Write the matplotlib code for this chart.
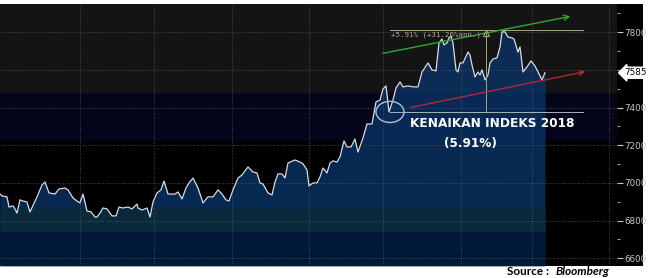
import matplotlib
matplotlib.use('Agg')
import matplotlib.pyplot as plt
import matplotlib.transforms as mtransforms
from matplotlib.patches import Ellipse, Rectangle
import numpy as np

# ── Data (IHSG) ──────────────────────────────────────────────
sesi = [0, 2, 7, 9, 13, 15, 17, 20, 23, 27, 30,
        37, 42, 45, 49, 55, 59, 65, 68, 73, 77, 80,
        83, 87, 91, 95, 97, 100, 103, 107, 112, 116, 119,
        123, 128, 132, 137, 138, 142, 147, 150, 153, 157, 161,
        164, 168, 175, 178, 182, 186, 189, 193, 198, 203, 208,
        213, 218, 222, 226, 229, 233, 238, 242, 248, 253, 257,
        260, 263, 268, 272, 275, 278, 282, 285, 288, 295, 300,
        303, 307, 309, 313, 317, 320, 323, 327, 330, 333, 337,
        340, 344, 347, 351, 355, 358, 363, 367, 372, 376, 380,
        383, 386, 389, 393, 396, 400, 403, 408, 413, 418, 422,
        428, 432, 436, 439, 442, 444, 447, 449, 451, 453, 456,
        458, 460, 463, 468, 470, 472, 475, 478, 480, 482, 485,
        488, 490, 493, 497, 500, 502, 505, 508, 512, 514, 518,
        520, 523, 527, 531, 535, 538, 542, 545]
ihsg = [6941, 6931, 6926, 6872, 6878, 6862, 6840, 6910, 6904, 6899, 6846,
        6926, 6989, 7005, 6947, 6941, 6968, 6973, 6963, 6920, 6904, 6894,
        6941, 6851, 6846, 6819, 6819, 6840, 6867, 6862, 6825, 6825, 6872,
        6867, 6872, 6862, 6888, 6867, 6856, 6867, 6819, 6899, 6947, 6963,
        7010, 6941, 6941, 6952, 6915, 6973, 7000, 7026, 6973, 6894, 6926,
        6926, 6963, 6941, 6910, 6904, 6963, 7026, 7042, 7085, 7058, 7053,
        7000, 6994, 6947, 6936, 7005, 7048, 7048, 7026, 7106, 7122, 7111,
        7101, 7069, 6984, 7000, 7000, 7032, 7079, 7053, 7106, 7117, 7111,
        7138, 7223, 7191, 7191, 7233, 7164, 7239, 7313, 7313, 7430, 7440,
        7499, 7515, 7377, 7440, 7504, 7536, 7510, 7515, 7510, 7510, 7589,
        7637, 7600, 7595, 7743, 7764, 7733, 7743, 7770, 7780, 7743, 7600,
        7589, 7637, 7637, 7695, 7679, 7626, 7563, 7589, 7573, 7600, 7547,
        7573, 7637, 7658, 7664, 7722, 7802, 7802, 7775, 7770, 7764, 7695,
        7722, 7589, 7616, 7648, 7621, 7589, 7547, 7585]

last_price = 7585
pct_label = '+5.91% (+31.26%ann.)'
start_2018 = 7377
top_2018 = 7812

major_ticks = [6600, 6800, 7000, 7200, 7400, 7600, 7800]
label_ticks = [6600, 6800, 7000, 7200, 7400, 7800]
minor_ticks = [6700, 6900, 7100, 7300, 7500, 7700, 7900]
month_lines = [80, 154, 232, 309, 383, 461, 532, 609]

Y0, Y1 = 6559, 7950
v = np.array(ihsg)

# ── Figure ───────────────────────────────────────────────────
fig = plt.figure(figsize=(6.48, 2.78), dpi=100)
fig.patch.set_facecolor('white')
ax = fig.add_axes([0, 12 / 278, 617 / 648, 262 / 278])
ax.set_facecolor('black')
ax.set_xlim(0, 617)
ax.set_ylim(Y0, Y1)

# black strip behind the price axis
fig.patches.append(Rectangle((617 / 648, 12 / 278), 26 / 648, 262 / 278,
                             transform=fig.transFigure, facecolor='black',
                             edgecolor='none', zorder=-1))

# background bands
ax.axhspan(7478, Y1, color='#141414', zorder=0)
ax.axhspan(7228, 7478, color='#04051a', zorder=0)

# area fill + bands inside it
ax.fill_between(sesi, Y0, v, color='#0a3366', alpha=0.8, lw=0, zorder=2)
ax.fill_between(sesi, 6740, np.minimum(v, 6867), color='#0a2a3c', lw=0, zorder=3)
ax.fill_between(sesi, Y0, 6740, color='#021838', lw=0, zorder=3)

# grid
for y in major_ticks:
    ax.axhline(y, color='#5a5a5a', lw=0.6, ls=(0, (1, 2)), zorder=4)
for x in month_lines:
    ax.axvline(x, color='#5a5a5a', lw=0.6, ls=(0, (1, 2)), zorder=4)

ax.plot(sesi, v, color='#d8dce6', lw=0.9, zorder=5)

# ── Bloomberg %change annotation ─────────────────────────────
ann_col = '#a8a47a'
ax.plot([390, 583], [top_2018, top_2018], color=ann_col, lw=0.7, zorder=6)
ax.plot([390, 583], [start_2018, start_2018], color='#a8b4b4', lw=0.7, zorder=6)
ax.plot([486, 486], [start_2018, top_2018 - 15], color=ann_col, lw=0.7, zorder=6)
ax.plot([486], [top_2018 - 14], marker='^', ms=5, mfc='none', mec=ann_col,
        mew=0.8, zorder=7)
ax.text(391, 7788, pct_label, color='#b0ad90', fontsize=5.3,
        family='DejaVu Sans Mono', va='center', ha='left', zorder=7)

ax.annotate('', xy=(573, 7887), xytext=(380, 7685),
            arrowprops=dict(arrowstyle='->', color='#2fa82f', lw=1.0,
                            mutation_scale=9), zorder=6)
ax.annotate('', xy=(588, 7594), xytext=(408, 7398),
            arrowprops=dict(arrowstyle='->', color='#b02838', lw=1.0,
                            mutation_scale=9), zorder=6)

ax.add_patch(Ellipse((390, start_2018), 28, 112, fill=False,
                     edgecolor='#a8c4dc', lw=1.0, zorder=7))

ax.text(492, 7318, 'KENAIKAN INDEKS 2018', color='white', fontsize=8.7,
        fontweight='bold', ha='center', va='center', zorder=8)
ax.text(470, 7212, '(5.91%)', color='white', fontsize=8.7,
        fontweight='bold', ha='center', va='center', zorder=8)

# ── Price axis on the right ──────────────────────────────────
ax.yaxis.tick_right()
ax.set_yticks(label_ticks)
ax.set_yticks(minor_ticks + [7600], minor=True)
ax.tick_params(axis='y', which='major', colors='#c8c8c8', labelsize=6.3,
               length=4, width=0.8, pad=1, direction='out')
ax.tick_params(axis='y', which='minor', colors='#c8c8c8', length=2, width=0.6,
               direction='out')
ax.set_xticks([])
for s in ax.spines.values():
    s.set_visible(False)

trans = mtransforms.blended_transform_factory(ax.transAxes, ax.transData)
ax.text(1.012, last_price, str(last_price), transform=trans, fontsize=6.3,
        color='black', va='center', ha='left',
        bbox=dict(boxstyle='larrow,pad=0.12', facecolor='white',
                  edgecolor='white'), zorder=9, clip_on=False)

# ── Source ───────────────────────────────────────────────────
fig.text(507 / 648, 2.8 / 278, 'Source : ', fontsize=8.5, fontweight='bold',
         family='Lato', ha='left', va='baseline', color='black')
fig.text(556 / 648, 2.8 / 278, 'Bloomberg', fontsize=8.5, fontweight='bold',
         style='italic', family='Lato', ha='left', va='baseline', color='black')

fig.savefig('out.png', dpi=100, facecolor='white')
